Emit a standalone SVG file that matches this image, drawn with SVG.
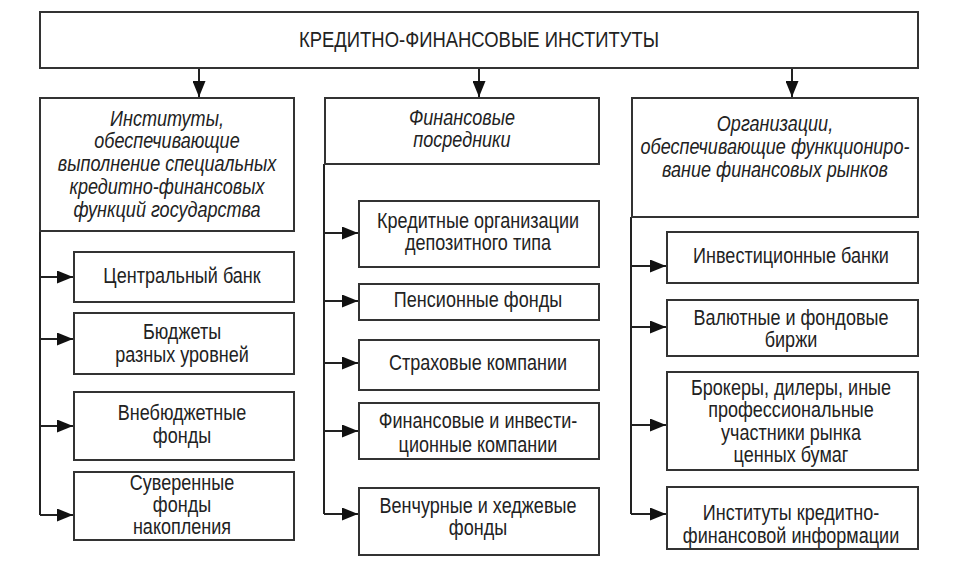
<svg xmlns="http://www.w3.org/2000/svg" width="954" height="569" viewBox="0 0 954 569">
<defs>
<style>
.box{fill:#fff;stroke:#333;stroke-width:2}
.t{font-family:'Liberation Sans',Arial,sans-serif;font-size:22px;fill:#222;text-anchor:middle}
.h{font-style:italic}
.title{font-size:22.5px}
.c{fill:none;stroke:#222;stroke-width:2}
</style>
<marker id="ah" markerUnits="userSpaceOnUse" markerWidth="16" markerHeight="13" refX="16" refY="6.5" orient="auto">
<path d="M0,0 L16,6.5 L0,13 z" fill="#111"/>
</marker>
</defs>
<rect width="954" height="569" fill="#fff"/>
<g id="connectors">
<path class="c" d="M199,68 V97" marker-end="url(#ah)"/>
<path class="c" d="M479,68 V97" marker-end="url(#ah)"/>
<path class="c" d="M792,68 V97" marker-end="url(#ah)"/>
<path class="c" d="M40,231 V515"/>
<path class="c" d="M40,277 H73" marker-end="url(#ah)"/>
<path class="c" d="M40,339 H73" marker-end="url(#ah)"/>
<path class="c" d="M40,426 H73" marker-end="url(#ah)"/>
<path class="c" d="M40,515 H73" marker-end="url(#ah)"/>
<path class="c" d="M324,164 V514"/>
<path class="c" d="M324,233 H358" marker-end="url(#ah)"/>
<path class="c" d="M324,301 H358" marker-end="url(#ah)"/>
<path class="c" d="M324,363 H358" marker-end="url(#ah)"/>
<path class="c" d="M324,431 H358" marker-end="url(#ah)"/>
<path class="c" d="M324,514 H358" marker-end="url(#ah)"/>
<path class="c" d="M631,217 V514"/>
<path class="c" d="M631,266 H666" marker-end="url(#ah)"/>
<path class="c" d="M631,327 H666" marker-end="url(#ah)"/>
<path class="c" d="M631,425 H666" marker-end="url(#ah)"/>
<path class="c" d="M631,514 H666" marker-end="url(#ah)"/>
</g>
<g id="root">
<rect class="box" x="40" y="12" width="878" height="56"/>
<text class="t title" transform="translate(479 0) scale(0.82 1)"><tspan x="0" y="47">КРЕДИТНО-ФИНАНСОВЫЕ ИНСТИТУТЫ</tspan></text>
</g>
<g id="h1">
<rect class="box" x="40" y="98" width="254" height="133"/>
<text class="t h" transform="translate(167 0) scale(0.82 1)"><tspan x="0" y="126">Институты,</tspan><tspan x="0" y="148">обеспечивающие</tspan><tspan x="0" y="171">выполнение специальных</tspan><tspan x="0" y="194">кредитно-финансовых</tspan><tspan x="0" y="217">функций государства</tspan></text>
</g>
<g id="h2">
<rect class="box" x="325" y="98" width="274" height="66"/>
<text class="t h" transform="translate(462 0) scale(0.82 1)"><tspan x="0" y="125">Финансовые</tspan><tspan x="0" y="147">посредники</tspan></text>
</g>
<g id="h3">
<rect class="box" x="632" y="98" width="286" height="119"/>
<text class="t h" transform="translate(775 0) scale(0.82 1)"><tspan x="0" y="131">Организации,</tspan><tspan x="0" y="154">обеспечивающие функциониро-</tspan><tspan x="0" y="177">вание финансовых рынков</tspan></text>
</g>
<g id="n11">
<rect class="box" x="74" y="252" width="220" height="50"/>
<text class="t" transform="translate(182 0) scale(0.82 1)"><tspan x="0" y="283">Центральный банк</tspan></text>
</g>
<g id="n12">
<rect class="box" x="74" y="313" width="220" height="61"/>
<text class="t" transform="translate(182 0) scale(0.82 1)"><tspan x="0" y="339">Бюджеты</tspan><tspan x="0" y="362">разных уровней</tspan></text>
</g>
<g id="n13">
<rect class="box" x="74" y="392" width="220" height="68"/>
<text class="t" transform="translate(182 0) scale(0.82 1)"><tspan x="0" y="420">Внебюджетные</tspan><tspan x="0" y="443">фонды</tspan></text>
</g>
<g id="n14">
<rect class="box" x="74" y="472" width="220" height="68"/>
<text class="t" transform="translate(182 0) scale(0.82 1)"><tspan x="0" y="490">Суверенные</tspan><tspan x="0" y="512">фонды</tspan><tspan x="0" y="534">накопления</tspan></text>
</g>
<g id="n21">
<rect class="box" x="359" y="201" width="240" height="66"/>
<text class="t" transform="translate(478 0) scale(0.82 1)"><tspan x="0" y="228">Кредитные организации</tspan><tspan x="0" y="250">депозитного типа</tspan></text>
</g>
<g id="n22">
<rect class="box" x="359" y="284" width="240" height="36"/>
<text class="t" transform="translate(478 0) scale(0.82 1)"><tspan x="0" y="307">Пенсионные фонды</tspan></text>
</g>
<g id="n23">
<rect class="box" x="359" y="340" width="240" height="50"/>
<text class="t" transform="translate(478 0) scale(0.82 1)"><tspan x="0" y="370">Страховые компании</tspan></text>
</g>
<g id="n24">
<rect class="box" x="359" y="403" width="240" height="56"/>
<text class="t" transform="translate(478 0) scale(0.82 1)"><tspan x="0" y="428">Финансовые и инвести-</tspan><tspan x="0" y="452">ционные компании</tspan></text>
</g>
<g id="n25">
<rect class="box" x="359" y="488" width="240" height="67"/>
<text class="t" transform="translate(478 0) scale(0.82 1)"><tspan x="0" y="513">Венчурные и хеджевые</tspan><tspan x="0" y="535">фонды</tspan></text>
</g>
<g id="n31">
<rect class="box" x="667" y="232" width="251" height="51"/>
<text class="t" transform="translate(791 0) scale(0.82 1)"><tspan x="0" y="263">Инвестиционные банки</tspan></text>
</g>
<g id="n32">
<rect class="box" x="667" y="300" width="251" height="56"/>
<text class="t" transform="translate(791 0) scale(0.82 1)"><tspan x="0" y="325">Валютные и фондовые</tspan><tspan x="0" y="347">биржи</tspan></text>
</g>
<g id="n33">
<rect class="box" x="667" y="372" width="251" height="98"/>
<text class="t" transform="translate(791 0) scale(0.82 1)"><tspan x="0" y="395">Брокеры, дилеры, иные</tspan><tspan x="0" y="417">профессиональные</tspan><tspan x="0" y="440">участники рынка</tspan><tspan x="0" y="462">ценных бумаг</tspan></text>
</g>
<g id="n34">
<rect class="box" x="667" y="487" width="251" height="62"/>
<text class="t" transform="translate(791 0) scale(0.82 1)"><tspan x="0" y="520">Институты кредитно-</tspan><tspan x="0" y="543">финансовой информации</tspan></text>
</g>
</svg>
